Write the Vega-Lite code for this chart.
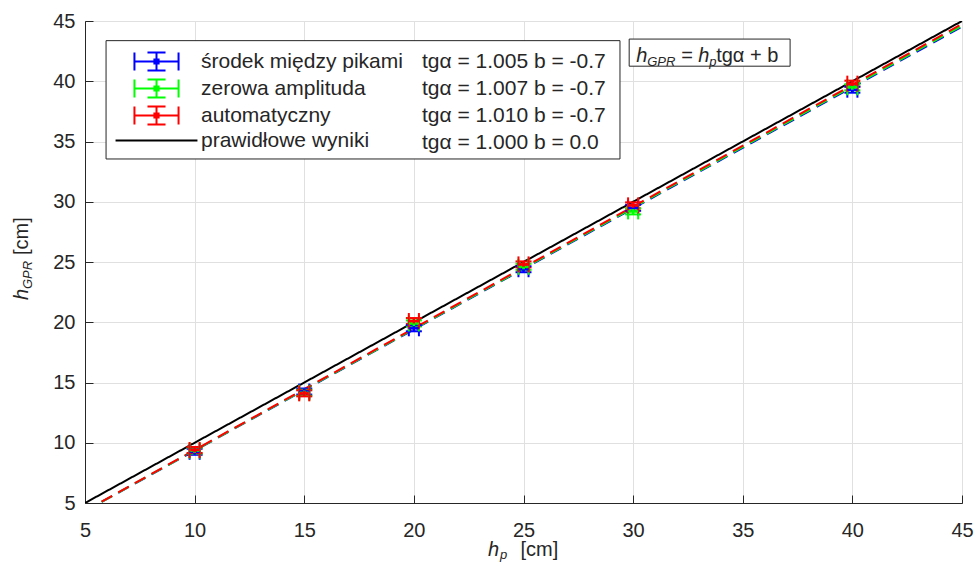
{
  "$schema": "https://vega.github.io/schema/vega-lite/v6.json",
  "width": 877,
  "height": 482,
  "autosize": {"type": "none"},
  "padding": {"left": 85, "top": 21, "right": 16, "bottom": 59},
  "background": "white",
  "config": {
    "view": {"stroke": "#262626", "strokeWidth": 1},
    "axis": {
      "labelFont": "Liberation Sans",
      "labelFontSize": 20,
      "labelColor": "#262626",
      "domainColor": "#262626",
      "tickColor": "#262626",
      "gridColor": "#e0e0e0",
      "tickSize": -8,
      "labelFlush": false
    },
    "legend": {"labelFont": "Liberation Sans", "labelColor": "#262626"}
  },
  "resolve": {"legend": {"color": "independent", "shape": "independent"}},
  "datasets": {
    "points": [
      {"series": "środek między pikami", "hp": 10, "hgpr": 9.25, "ex": 0.23, "ey": 0.25},
      {"series": "środek między pikami", "hp": 15, "hgpr": 14.25, "ex": 0.23, "ey": 0.25},
      {"series": "środek między pikami", "hp": 20, "hgpr": 19.5, "ex": 0.23, "ey": 0.25},
      {"series": "środek między pikami", "hp": 25, "hgpr": 24.4, "ex": 0.23, "ey": 0.25},
      {"series": "środek między pikami", "hp": 30, "hgpr": 29.5, "ex": 0.23, "ey": 0.25},
      {"series": "środek między pikami", "hp": 40, "hgpr": 39.3, "ex": 0.23, "ey": 0.25},
      {"series": "zerowa amplituda", "hp": 10, "hgpr": 9.35, "ex": 0.23, "ey": 0.25},
      {"series": "zerowa amplituda", "hp": 15, "hgpr": 14.15, "ex": 0.23, "ey": 0.25},
      {"series": "zerowa amplituda", "hp": 20, "hgpr": 19.9, "ex": 0.23, "ey": 0.25},
      {"series": "zerowa amplituda", "hp": 25, "hgpr": 24.6, "ex": 0.23, "ey": 0.25},
      {"series": "zerowa amplituda", "hp": 30, "hgpr": 29.2, "ex": 0.23, "ey": 0.25},
      {"series": "zerowa amplituda", "hp": 40, "hgpr": 39.5, "ex": 0.23, "ey": 0.25},
      {"series": "automatyczny", "hp": 10, "hgpr": 9.4, "ex": 0.23, "ey": 0.25},
      {"series": "automatyczny", "hp": 15, "hgpr": 14.1, "ex": 0.23, "ey": 0.25},
      {"series": "automatyczny", "hp": 20, "hgpr": 20.1, "ex": 0.23, "ey": 0.25},
      {"series": "automatyczny", "hp": 25, "hgpr": 24.8, "ex": 0.23, "ey": 0.25},
      {"series": "automatyczny", "hp": 30, "hgpr": 29.7, "ex": 0.23, "ey": 0.25},
      {"series": "automatyczny", "hp": 40, "hgpr": 39.8, "ex": 0.23, "ey": 0.25}
    ],
    "lines": [
      {"series": "prawidłowe wyniki", "eq": "tgα = 1.000 b = 0.0", "hp": 5, "hgpr": 5},
      {"series": "prawidłowe wyniki", "eq": "tgα = 1.000 b = 0.0", "hp": 45, "hgpr": 45},
      {"series": "środek między pikami", "eq": "tgα = 1.005 b = -0.7", "hp": 5, "hgpr": 4.325},
      {"series": "środek między pikami", "eq": "tgα = 1.005 b = -0.7", "hp": 45, "hgpr": 44.525},
      {"series": "zerowa amplituda", "eq": "tgα = 1.007 b = -0.7", "hp": 5, "hgpr": 4.335},
      {"series": "zerowa amplituda", "eq": "tgα = 1.007 b = -0.7", "hp": 45, "hgpr": 44.615},
      {"series": "automatyczny", "eq": "tgα = 1.010 b = -0.7", "hp": 5, "hgpr": 4.35},
      {"series": "automatyczny", "eq": "tgα = 1.010 b = -0.7", "hp": 45, "hgpr": 44.75}
    ]
  },
  "layer": [
    {
      "data": {"name": "lines"},
      "mark": {"type": "line", "clip": true, "strokeWidth": 2},
      "encoding": {
        "x": {"field": "hp", "type": "quantitative", "scale": {"domain": [5, 45], "nice": false},
              "axis": {"title": null, "values": [5, 10, 15, 20, 25, 30, 35, 40, 45], "labelPadding": 25}},
        "y": {"field": "hgpr", "type": "quantitative", "scale": {"domain": [5, 45], "nice": false},
              "axis": {"title": null, "values": [5, 10, 15, 20, 25, 30, 35, 40, 45], "labelPadding": 18}},
        "color": {"field": "series", "type": "nominal", "legend": null,
                  "scale": {"domain": ["środek między pikami", "zerowa amplituda", "automatyczny", "prawidłowe wyniki"],
                            "range": ["#0000ff", "#00ff00", "#ff0000", "#000000"]}},
        "strokeDash": {"field": "eq", "type": "nominal",
                  "scale": {"domain": ["tgα = 1.005 b = -0.7", "tgα = 1.007 b = -0.7", "tgα = 1.010 b = -0.7", "tgα = 1.000 b = 0.0"],
                            "range": [[12, 7], [12, 7], [12, 7], [1, 0]]},
                  "legend": {"orient": "none", "legendX": 314, "legendY": 29, "title": null, "padding": 0,
                             "symbolOpacity": 0, "symbolSize": 441, "symbolStrokeWidth": 2,
                             "labelFontSize": 21, "labelOffset": 0, "rowPadding": 5, "labelLimit": 400}}
      }
    },
    {
      "data": {"name": "points"},
      "mark": {"type": "errorbar", "thickness": 2, "size": 16, "opacity": 1, "ticks": {"size": 16}},
      "encoding": {
        "x": {"field": "hp", "type": "quantitative"},
        "y": {"field": "hgpr", "type": "quantitative"},
        "yError": {"field": "ey"},
        "color": {"field": "series", "type": "nominal", "legend": null}
      }
    },
    {
      "data": {"name": "points"},
      "mark": {"type": "errorbar", "thickness": 2, "size": 16, "opacity": 1, "ticks": {"size": 16}},
      "encoding": {
        "x": {"field": "hp", "type": "quantitative"},
        "y": {"field": "hgpr", "type": "quantitative"},
        "xError": {"field": "ex"},
        "color": {"field": "series", "type": "nominal", "legend": null}
      }
    },
    {
      "data": {"name": "points"},
      "mark": {"type": "point", "filled": false, "size": 10, "strokeWidth": 2, "opacity": 1},
      "encoding": {
        "x": {"field": "hp", "type": "quantitative"},
        "y": {"field": "hgpr", "type": "quantitative"},
        "shape": {"field": "series", "type": "nominal",
                  "scale": {"domain": ["środek między pikami", "zerowa amplituda", "automatyczny", "prawidłowe wyniki"],
                            "range": ["M-2.1,0H2.1M-2.1,-0.86V0.86M2.1,-0.86V0.86M0,-0.86V0.86M-0.86,-0.86H0.86M-0.86,0.86H0.86M-0.2,-0.2H0.2V0.2H-0.2Z",
                                      "M-2.1,0H2.1M-2.1,-0.86V0.86M2.1,-0.86V0.86M0,-0.86V0.86M-0.86,-0.86H0.86M-0.86,0.86H0.86M-0.2,-0.2H0.2V0.2H-0.2Z",
                                      "M-2.1,0H2.1M-2.1,-0.86V0.86M2.1,-0.86V0.86M0,-0.86V0.86M-0.86,-0.86H0.86M-0.86,0.86H0.86M-0.2,-0.2H0.2V0.2H-0.2Z",
                                      "M-3.9,0H3.9"]},
                  "legend": {"orient": "none", "legendX": 60, "legendY": 29, "title": null, "padding": 0,
                             "symbolSize": 441, "symbolStrokeWidth": 2, "symbolOpacity": 1,
                             "labelFontSize": 21, "labelOffset": 33, "rowPadding": 0, "labelLimit": 400}},
        "color": {"field": "series", "type": "nominal",
                  "legend": {"orient": "none", "legendX": 60, "legendY": 29, "title": null, "padding": 0,
                             "symbolSize": 441, "symbolStrokeWidth": 2, "symbolOpacity": 1,
                             "labelFontSize": 21, "labelOffset": 33, "rowPadding": 0, "labelLimit": 400}}
      }
    },
    {
      "data": {"values": [{"k": "legend frame"}]},
      "mark": {"type": "rect", "fill": "white", "stroke": "#262626", "strokeWidth": 1},
      "encoding": {"x": {"datum": 5.96}, "x2": {"datum": 29.4}, "y": {"datum": 43.37}, "y2": {"datum": 33.55}}
    },
    {
      "data": {"values": [{"k": "formula frame"}]},
      "mark": {"type": "rect", "fill": "white", "stroke": "#262626", "strokeWidth": 1},
      "encoding": {"x": {"datum": 29.82}, "x2": {"datum": 37.16}, "y": {"datum": 43.5}, "y2": {"datum": 41.25}}
    },
    {
      "data": {"values": [{"t": "h"}]},
      "mark": {"type": "text", "font": "Liberation Sans", "fontSize": 20, "fontStyle": "italic", "align": "left", "baseline": "alphabetic", "dx": 3, "dy": 4.5, "color": "#262626"},
      "encoding": {"x": {"datum": 30}, "y": {"datum": 42}, "text": {"field": "t"}}
    },
    {
      "data": {"values": [{"t": "GPR"}]},
      "mark": {"type": "text", "font": "Liberation Sans", "fontSize": 13, "fontStyle": "italic", "align": "left", "baseline": "alphabetic", "dx": 14, "dy": 8.5, "color": "#262626"},
      "encoding": {"x": {"datum": 30}, "y": {"datum": 42}, "text": {"field": "t"}}
    },
    {
      "data": {"values": [{"t": "="}]},
      "mark": {"type": "text", "font": "Liberation Sans", "fontSize": 20, "align": "left", "baseline": "alphabetic", "dx": 48, "dy": 4.5, "color": "#262626"},
      "encoding": {"x": {"datum": 30}, "y": {"datum": 42}, "text": {"field": "t"}}
    },
    {
      "data": {"values": [{"t": "h"}]},
      "mark": {"type": "text", "font": "Liberation Sans", "fontSize": 20, "fontStyle": "italic", "align": "left", "baseline": "alphabetic", "dx": 65, "dy": 4.5, "color": "#262626"},
      "encoding": {"x": {"datum": 30}, "y": {"datum": 42}, "text": {"field": "t"}}
    },
    {
      "data": {"values": [{"t": "p"}]},
      "mark": {"type": "text", "font": "Liberation Sans", "fontSize": 13, "fontStyle": "italic", "align": "left", "baseline": "alphabetic", "dx": 76, "dy": 8.5, "color": "#262626"},
      "encoding": {"x": {"datum": 30}, "y": {"datum": 42}, "text": {"field": "t"}}
    },
    {
      "data": {"values": [{"t": "tgα + b"}]},
      "mark": {"type": "text", "font": "Liberation Sans", "fontSize": 20, "align": "left", "baseline": "alphabetic", "dx": 83, "dy": 4.5, "color": "#262626"},
      "encoding": {"x": {"datum": 30}, "y": {"datum": 42}, "text": {"field": "t"}}
    },
    {
      "data": {"values": [{"t": "h"}]},
      "mark": {"type": "text", "font": "Liberation Sans", "fontSize": 20, "fontStyle": "italic", "align": "left", "baseline": "alphabetic", "angle": 270, "dx": -38, "dy": -57, "color": "#262626"},
      "encoding": {"x": {"datum": 5}, "y": {"datum": 25}, "text": {"field": "t"}}
    },
    {
      "data": {"values": [{"t": "GPR"}]},
      "mark": {"type": "text", "font": "Liberation Sans", "fontSize": 13, "fontStyle": "italic", "align": "left", "baseline": "alphabetic", "angle": 270, "dx": -27, "dy": -53, "color": "#262626"},
      "encoding": {"x": {"datum": 5}, "y": {"datum": 25}, "text": {"field": "t"}}
    },
    {
      "data": {"values": [{"t": "[cm]"}]},
      "mark": {"type": "text", "font": "Liberation Sans", "fontSize": 20, "align": "left", "baseline": "alphabetic", "angle": 270, "dx": 7, "dy": -57, "color": "#262626"},
      "encoding": {"x": {"datum": 5}, "y": {"datum": 25}, "text": {"field": "t"}}
    },
    {
      "data": {"values": [{"t": "h"}]},
      "mark": {"type": "text", "font": "Liberation Sans", "fontSize": 20, "fontStyle": "italic", "align": "left", "baseline": "alphabetic", "dx": -35.5, "dy": 53, "color": "#262626"},
      "encoding": {"x": {"datum": 25}, "y": {"datum": 5}, "text": {"field": "t"}}
    },
    {
      "data": {"values": [{"t": "p"}]},
      "mark": {"type": "text", "font": "Liberation Sans", "fontSize": 13, "fontStyle": "italic", "align": "left", "baseline": "alphabetic", "dx": -23.5, "dy": 56, "color": "#262626"},
      "encoding": {"x": {"datum": 25}, "y": {"datum": 5}, "text": {"field": "t"}}
    },
    {
      "data": {"values": [{"t": "[cm]"}]},
      "mark": {"type": "text", "font": "Liberation Sans", "fontSize": 20, "align": "left", "baseline": "alphabetic", "dx": -3, "dy": 53, "color": "#262626"},
      "encoding": {"x": {"datum": 25}, "y": {"datum": 5}, "text": {"field": "t"}}
    }
  ]
}
